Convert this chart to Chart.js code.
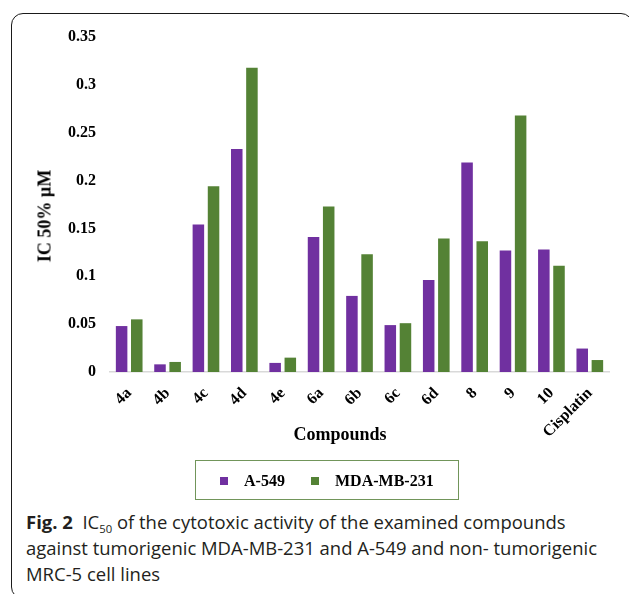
<!DOCTYPE html>
<html>
<head>
<meta charset="utf-8">
<script src="https://cdn.jsdelivr.net/npm/chart.js@4"></script>
<style>
  html, body { margin:0; padding:0; background:#fff; }
  body { width:629px; height:594px; position:relative; overflow:hidden; }
  #frame { position:absolute; left:11px; top:13px; width:622px; height:586px; box-sizing:border-box;
           border:1.6px solid #1a1a1a; border-radius:12px; }
  #wrap { position:absolute; left:0; top:0; width:629px; height:460px; }
  .serifb { font-family:"Liberation Serif","Times New Roman",serif; font-weight:bold; color:#000; position:absolute; white-space:nowrap; }
  #ytitle { font-size:18px; left:45px; top:216px; transform:translate(-50%,-50%) rotate(-90deg); }
  #xtitle { font-size:18px; left:340px; top:434px; transform:translate(-50%,-50%); }
  #legend { position:absolute; left:195px; top:460px; width:264px; height:40px; box-sizing:border-box; border:1.5px solid #71955a; }
  .sw { position:absolute; width:8px; height:8px; top:477px; }
  .lt { font-size:16px; top:481px; transform:translateY(-50%); line-height:18px; }
  .cap { position:absolute; left:26px; font-family:"Open Sans","Noto Sans",sans-serif; font-size:18px; line-height:26px; color:#231f20; white-space:nowrap; transform-origin:0 0; }
  .cap b { font-weight:bold; }
  .cap sub { font-size:11px; vertical-align:-4px; line-height:0; }
</style>
</head>
<body>
<div id="frame"></div>
<div id="wrap"><canvas id="c" width="629" height="460"></canvas></div>
<div id="ytitle" class="serifb">IC 50% µM</div>
<div id="xtitle" class="serifb">Compounds</div>
<div id="legend"></div>
<div class="sw" style="left:220px;background:#7030a0"></div>
<div class="serifb lt" style="left:244px">A-549</div>
<div class="sw" style="left:311px;background:#548235"></div>
<div class="serifb lt" style="left:335px">MDA-MB-231</div>
<div class="cap" id="cap1" style="top:509px"><b>Fig. 2</b>&nbsp; IC<sub>50</sub> of the cytotoxic activity of the examined compounds</div>
<div class="cap" id="cap2" style="top:535px">against tumorigenic MDA-MB-231 and A-549 and non- tumorigenic</div>
<div class="cap" id="cap3" style="top:561px">MRC-5 cell lines</div>
<script>
const categories = ['4a','4b','4c','4d','4e','6a','6b','6c','6d','8','9','10','Cisplatin'];
const seriesNames = ['A-549','MDA-MB-231'];
const a549 = [0.048,0.008,0.154,0.233,0.0095,0.141,0.0795,0.049,0.096,0.219,0.127,0.128,0.0245];
const mda231 = [0.055,0.0105,0.194,0.318,0.015,0.173,0.123,0.051,0.1395,0.1365,0.268,0.111,0.0125];
const yTickLabels = ['0','0.05','0.1','0.15','0.2','0.25','0.3','0.35'];
const yMin = 0, yMax = 0.35, yStep = 0.05;

const serif = '"Liberation Serif","Times New Roman",serif';
new Chart(document.getElementById('c'), {
  type: 'bar',
  data: {
    labels: categories,
    datasets: [
      { label: seriesNames[0], data: a549, backgroundColor: '#7030a0', barPercentage: 0.76, categoryPercentage: 0.79 },
      { label: seriesNames[1], data: mda231, backgroundColor: '#548235', barPercentage: 0.76, categoryPercentage: 0.79 }
    ]
  },
  options: {
    responsive: false,
    devicePixelRatio: 1,
    animation: false,
    layout: { padding: { top: 37, right: 20, left: 0, bottom: 0 } },
    plugins: { legend: { display: false }, tooltip: { enabled: false } },
    scales: {
      x: {
        grid: { display: false, drawTicks: false },
        border: { display: true, color: '#d9d9d9', width: 1.5 },
        ticks: { color: '#000', font: { family: serif, weight: 'bold', size: 16 }, minRotation: 45, maxRotation: 45, padding: 12, autoSkip: false },
        afterFit: s => { s.height = 88; }
      },
      y: {
        min: yMin, max: yMax,
        grid: { display: false, drawTicks: false },
        border: { display: false },
        ticks: { stepSize: yStep, color: '#000', padding: 14, font: { family: serif, weight: 'bold', size: 16 },
                 callback: (v, i) => yTickLabels[i] },
        afterFit: s => { s.width = 110; }
      }
    }
  }
});

// one common horizontal squeeze for the caption font, fitted on line 2
const ref = document.getElementById('cap2');
const k = 571 / ref.getBoundingClientRect().width;
document.querySelectorAll('.cap').forEach(el => { el.style.transform = 'scaleX(' + k + ')'; });
</script>
</body>
</html>
